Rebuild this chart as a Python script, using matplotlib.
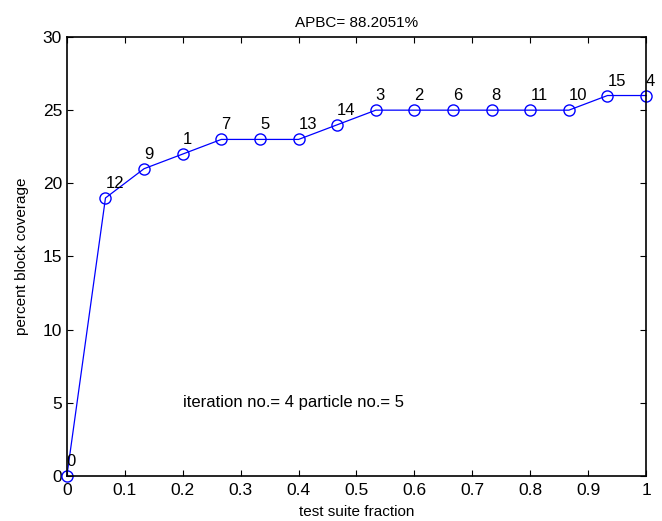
import matplotlib
matplotlib.use("Agg")
import matplotlib.pyplot as plt
import numpy as np

# test suite fraction and block coverage after each test
fraction = np.arange(16) / 15
coverage = [0, 19, 21, 22, 23, 23, 23, 24, 25, 25, 25, 25, 25, 25, 26, 26]
test_ids = ["0", "12", "9", "1", "7", "5", "13", "14", "3", "2", "6", "8", "11", "10", "15", "4"]
apbc = 88.2051

plt.rcParams["font.family"] = ["Liberation Sans", "DejaVu Sans"]
plt.rcParams["font.size"] = 10

fig = plt.figure(figsize=(6.62, 5.21), dpi=100)
ax = fig.add_axes([0.101, 0.0864, 0.875, 0.8426])

ax.plot(fraction, coverage, "-o", color="blue", linewidth=0.9,
        markerfacecolor="none", markeredgecolor="blue", markersize=8,
        clip_on=False)

for x, y, t in zip(fraction, coverage, test_ids):
    ax.annotate(t, (x, y), xytext=(0, 5), textcoords="offset points",
                ha="left", va="bottom", fontsize=12)

ax.text(0.2, 5, "iteration no.= 4 particle no.= 5", fontsize=12, va="center")

ax.set_xlim(0, 1)
ax.set_ylim(0, 30)
ax.set_xticks(np.arange(0, 1.01, 0.1))
ax.set_xticklabels(["0", "0.1", "0.2", "0.3", "0.4", "0.5", "0.6", "0.7", "0.8", "0.9", "1"])
ax.set_yticks(range(0, 31, 5))
ax.tick_params(direction="in", top=True, right=True, length=4, labelsize=12.5)
ax.tick_params(axis="x", pad=5)
for s in ax.spines.values():
    s.set_linewidth(1.2)

ax.set_title(f"APBC= {apbc}%", fontsize=11, pad=7)
ax.set_xlabel("test suite fraction", fontsize=11, labelpad=5)
ax.set_ylabel("percent block coverage", fontsize=11, labelpad=10)

fig.savefig("out.png", dpi=100)
